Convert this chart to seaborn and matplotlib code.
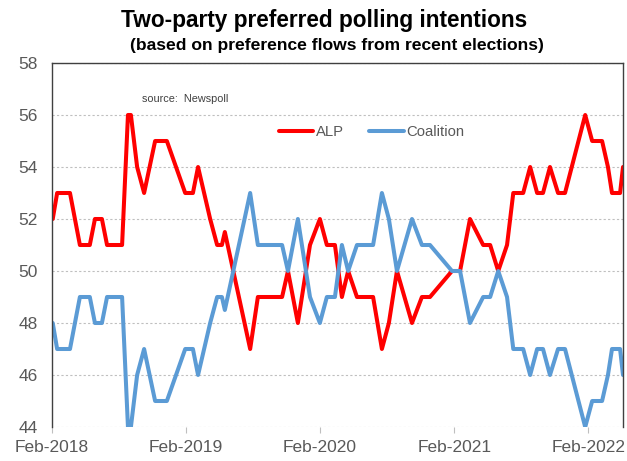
import matplotlib
matplotlib.use("Agg")
import matplotlib.pyplot as plt
import matplotlib.dates as mdates
import seaborn as sns
import pandas as pd

# ---- data (Newspoll two-party preferred) ----
poll_dates = [
    "2018-02-03", "2018-02-15", "2018-03-03", "2018-03-22", "2018-04-18", "2018-05-02",
    "2018-05-15", "2018-05-29", "2018-06-17", "2018-07-01", "2018-07-20", "2018-08-11",
    "2018-08-27", "2018-09-04", "2018-09-21", "2018-10-10", "2018-11-09", "2018-11-25",
    "2018-12-11", "2019-01-30", "2019-02-20", "2019-03-06", "2019-04-08", "2019-04-27",
    "2019-05-10", "2019-05-18", "2019-07-26", "2019-08-16", "2019-09-07", "2019-09-29",
    "2019-10-21", "2019-11-06", "2019-12-03", "2020-01-05", "2020-02-01", "2020-02-20",
    "2020-03-13", "2020-04-01", "2020-04-18", "2020-05-12", "2020-06-03", "2020-06-25",
    "2020-07-19", "2020-08-07", "2020-08-29", "2020-10-09", "2020-11-05", "2020-11-27",
    "2021-01-26", "2021-02-17", "2021-03-16", "2021-04-21", "2021-05-10", "2021-06-01",
    "2021-06-25", "2021-07-12", "2021-08-08", "2021-08-27", "2021-09-15", "2021-10-01",
    "2021-10-20", "2021-11-11", "2021-11-30", "2022-01-24", "2022-02-12", "2022-03-11",
    "2022-03-27", "2022-04-07", "2022-04-29", "2022-05-07",
]
alp = [
    52, 53, 53, 53, 51, 51,
    51, 52, 52, 51, 51, 51,
    56, 56, 54, 53, 55, 55,
    55, 53, 53, 54, 52, 51,
    51, 51.5, 47, 49, 49, 49,
    49, 50, 48, 51, 52, 51,
    51, 49, 50, 49, 49, 49,
    47, 48, 50, 48, 49, 49,
    50, 50, 52, 51, 51, 50,
    51, 53, 53, 54, 53, 53,
    54, 53, 53, 56, 55, 55,
    54, 53, 53, 54,
]
coalition = [
    48, 47, 47, 47, 49, 49,
    49, 48, 48, 49, 49, 49,
    44, 44, 46, 47, 45, 45,
    45, 47, 47, 46, 48, 49,
    49, 48.5, 53, 51, 51, 51,
    51, 50, 52, 49, 48, 49,
    49, 51, 50, 51, 51, 51,
    53, 52, 50, 52, 51, 51,
    50, 50, 48, 49, 49, 50,
    49, 47, 47, 46, 47, 47,
    46, 47, 47, 44, 45, 45,
    46, 47, 47, 46,
]
series_names = ["ALP", "Coalition"]
series_colors = ["#FF0000", "#5B9BD5"]
year_ticks = ["2018-02-01", "2019-02-01", "2020-02-01", "2021-02-01", "2022-02-01"]
y_ticks = [44, 46, 48, 50, 52, 54, 56, 58]

title = "Two-party preferred polling intentions"
subtitle = "(based on preference flows from recent elections)"
source_note = "source:  Newspoll"

# ---- build figure ----
sns.set_style("white")
plt.rcParams["font.family"] = ["Liberation Sans", "DejaVu Sans"]

df = pd.DataFrame({"date": pd.to_datetime(poll_dates),
                   series_names[0]: alp, series_names[1]: coalition})
long = df.melt(id_vars="date", var_name="Party", value_name="TPP")

W, H = 627, 461
fig = plt.figure(figsize=(W / 100, H / 100), dpi=100)
ax = fig.add_axes([52 / W, 1 - 427 / H, 571 / W, 364 / H])

sns.lineplot(data=long, x="date", y="TPP", hue="Party",
             hue_order=series_names,
             palette=dict(zip(series_names, series_colors)),
             linewidth=2.9, ax=ax)

ax.set_xlim(pd.Timestamp("2018-02-01"), pd.Timestamp("2022-05-07"))
ax.set_ylim(44, 58)
ax.set_yticks(y_ticks)
ax.set_xticks(pd.to_datetime(year_ticks))
ax.xaxis.set_major_formatter(mdates.DateFormatter("%b-%Y"))
ax.set_xlabel("")
ax.set_ylabel("")

ax.yaxis.grid(True, linestyle=(0, (2, 2)), color="#bfbfbf", linewidth=0.8)
ax.xaxis.grid(False)
ax.set_axisbelow(True)

for side in ["left", "top", "right"]:
    ax.spines[side].set_color("#404040")
    ax.spines[side].set_linewidth(1.0)
ax.spines["bottom"].set_visible(False)

ax.tick_params(axis="x", direction="out", length=4, width=0.8, color="#bfbfbf",
               labelsize=12.5, labelcolor="#595959", pad=5, bottom=True)
ax.tick_params(axis="y", length=0, labelsize=12.5, labelcolor="#595959", pad=10)

sns.move_legend(ax, loc="center", bbox_to_anchor=(0.560, 0.81), ncol=2,
                frameon=False, title=None, fontsize=10.7,
                handlelength=2.3, handletextpad=0.2, columnspacing=1.7)
for t in ax.get_legend().get_texts():
    t.set_color("#595959")
for h in ax.get_legend().legend_handles:
    h.set_linewidth(2.9)

ax.text(0.158, 0.901, source_note, transform=ax.transAxes, fontsize=7.8,
        color="#404040", va="center", ha="left")

fig.text(324 / W, 1 - 26.5 / H, title, ha="center", va="baseline",
         fontsize=16.3, fontweight="bold", color="black")
fig.text(337 / W, 1 - 50 / H, subtitle, ha="center", va="baseline",
         fontsize=12.6, fontweight="bold", color="black")

fig.savefig("out.png", dpi=100, facecolor="white")
